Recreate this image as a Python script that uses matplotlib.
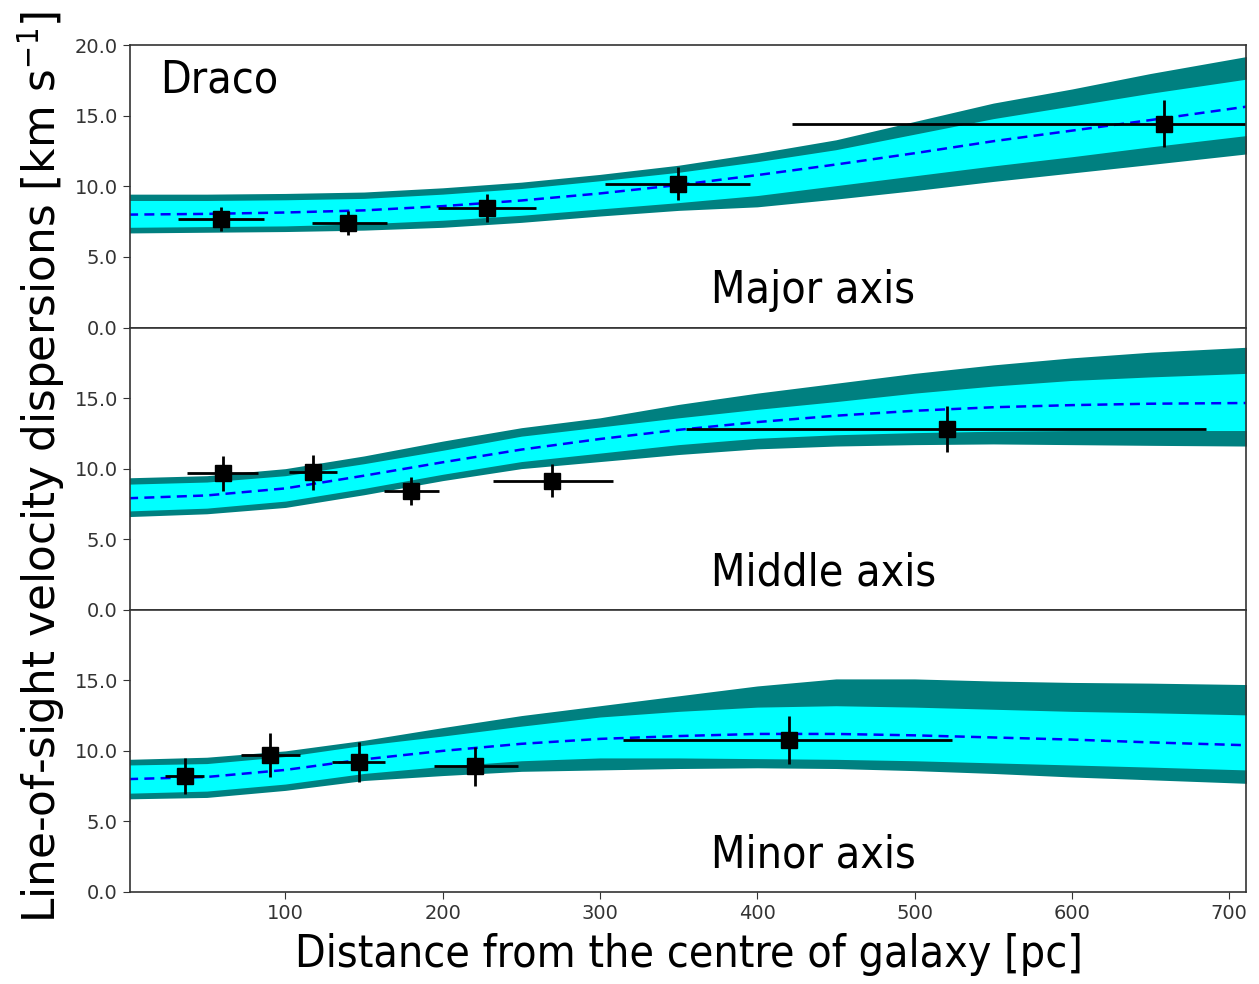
import numpy as np
import matplotlib
matplotlib.use('Agg')
import matplotlib.pyplot as plt

plt.rcParams['font.family'] = ['DejaVu Sans']
plt.rcParams['font.stretch'] = 'condensed'

# --- observed dispersions (radius in pc, sigma in km/s) ---
# major axis
maj_r = [59.2, 140.0, 228.2, 349.4, 658.8]
maj_rlo = [31.5, 116.7, 196.8, 303.2, 422.3]
maj_rhi = [86.2, 164.4, 259.4, 395.6, 895.0]
maj_s = [7.66, 7.42, 8.46, 10.19, 14.45]
maj_e = [0.85, 0.83, 1.0, 1.18, 1.65]
# middle axis
mid_r = [60.1, 117.4, 179.9, 269.8, 520.9]
mid_rlo = [37.3, 102.1, 162.9, 231.7, 355.0]
mid_rhi = [82.8, 132.6, 197.5, 308.0, 685.6]
mid_s = [9.69, 9.74, 8.44, 9.15, 12.84]
mid_e = [1.24, 1.24, 1.0, 1.17, 1.63]
# minor axis
min_r = [36.2, 90.5, 146.6, 220.8, 420.4]
min_rlo = [23.5, 71.8, 129.4, 194.3, 314.9]
min_rhi = [48.5, 109.3, 163.4, 248.1, 524.0]
min_s = [8.23, 9.72, 9.18, 8.90, 10.78]
min_e = [1.26, 1.54, 1.42, 1.37, 1.71]

# --- model profiles: median, 68% and 95% ranges ---
model_r = [0, 50, 100, 150, 200, 250, 300, 350, 400, 450, 500, 550, 600, 650, 711]

maj_med = [8.0, 8.05, 8.15, 8.3, 8.6, 9.0, 9.5, 10.1, 10.8, 11.55, 12.35, 13.2, 13.95, 14.7, 15.65]
maj_1hi = [9.0, 9.0, 9.05, 9.15, 9.45, 9.85, 10.4, 11.0, 11.75, 12.6, 13.7, 14.8, 15.7, 16.6, 17.6]
maj_2hi = [9.45, 9.45, 9.5, 9.6, 9.9, 10.3, 10.85, 11.5, 12.35, 13.3, 14.6, 15.9, 16.9, 18.0, 19.2]
maj_1lo = [7.1, 7.15, 7.2, 7.35, 7.6, 7.95, 8.4, 8.85, 9.35, 10.05, 10.75, 11.45, 12.1, 12.8, 13.6]
maj_2lo = [6.7, 6.75, 6.8, 6.9, 7.1, 7.45, 7.9, 8.3, 8.55, 9.1, 9.7, 10.35, 10.95, 11.55, 12.3]

mid_med = [7.9, 8.1, 8.6, 9.5, 10.45, 11.35, 12.1, 12.75, 13.3, 13.75, 14.1, 14.35, 14.5, 14.6, 14.65]
mid_1hi = [8.9, 9.05, 9.5, 10.35, 11.3, 12.3, 12.95, 13.6, 14.2, 14.75, 15.35, 15.85, 16.25, 16.5, 16.75]
mid_2hi = [9.35, 9.5, 10.0, 10.9, 11.95, 12.9, 13.6, 14.55, 15.35, 16.05, 16.75, 17.35, 17.85, 18.25, 18.6]
mid_1lo = [7.0, 7.2, 7.7, 8.6, 9.6, 10.5, 11.1, 11.7, 12.15, 12.4, 12.55, 12.65, 12.7, 12.7, 12.7]
mid_2lo = [6.6, 6.8, 7.25, 8.15, 9.15, 10.0, 10.5, 11.0, 11.4, 11.6, 11.7, 11.75, 11.7, 11.65, 11.6]

min_med = [8.0, 8.15, 8.65, 9.4, 10.0, 10.5, 10.85, 11.05, 11.2, 11.2, 11.1, 10.95, 10.8, 10.6, 10.4]
min_1hi = [9.0, 9.1, 9.6, 10.4, 11.05, 11.75, 12.4, 12.8, 13.1, 13.2, 13.1, 12.95, 12.8, 12.7, 12.55]
min_2hi = [9.4, 9.55, 10.0, 10.75, 11.65, 12.5, 13.2, 13.9, 14.6, 15.1, 15.1, 14.95, 14.85, 14.8, 14.7]
min_1lo = [7.0, 7.15, 7.65, 8.4, 8.9, 9.3, 9.5, 9.5, 9.45, 9.4, 9.3, 9.15, 9.0, 8.85, 8.65]
min_2lo = [6.6, 6.7, 7.2, 7.9, 8.25, 8.55, 8.65, 8.75, 8.8, 8.75, 8.6, 8.4, 8.15, 7.95, 7.7]

panels = [
    ('Major axis', maj_r, maj_rlo, maj_rhi, maj_s, maj_e,
     maj_med, maj_1lo, maj_1hi, maj_2lo, maj_2hi),
    ('Middle axis', mid_r, mid_rlo, mid_rhi, mid_s, mid_e,
     mid_med, mid_1lo, mid_1hi, mid_2lo, mid_2hi),
    ('Minor axis', min_r, min_rlo, min_rhi, min_s, min_e,
     min_med, min_1lo, min_1hi, min_2lo, min_2hi),
]

fig, axes = plt.subplots(3, 1, sharex=True, figsize=(12.59, 9.84), dpi=100)
fig.subplots_adjust(left=0.103, right=0.990, top=0.954, bottom=0.0935, hspace=0)

for i, (ax, p) in enumerate(zip(axes, panels)):
    name, r, rlo, rhi, s, e, med, lo1, hi1, lo2, hi2 = p
    r = np.array(r)
    xerr = [r - np.array(rlo), np.array(rhi) - r]
    ax.fill_between(model_r, lo2, hi2, color='#008080', lw=0)
    ax.fill_between(model_r, lo1, hi1, color='cyan', lw=0)
    ax.plot(model_r, med, '--', color='blue', lw=1.8, dashes=(4, 2.5))
    ax.errorbar(r, s, xerr=xerr, yerr=e, fmt='s', color='black', ms=12,
                elinewidth=2, capsize=0)
    ax.text(0.521, 0.13, name, transform=ax.transAxes, fontsize=32,
            va='center', ha='left')
    ax.set_xlim(1, 711)
    ax.set_ylim(0, 20)
    if i == 0:
        ax.set_yticks([0, 5, 10, 15, 20])
    else:
        ax.set_yticks([0, 5, 10, 15])
    ax.set_yticklabels(['%.1f' % t for t in ax.get_yticks()])
    ax.tick_params(labelsize=14, labelcolor='#333333', color='#333333',
                   length=5)
    for sp in ax.spines.values():
        sp.set_color('#333333')
        sp.set_linewidth(1.2)
    if i < 2:
        ax.tick_params(axis='x', bottom=False)

axes[0].text(0.027, 0.876, 'Draco', transform=axes[0].transAxes, fontsize=32,
             va='center', ha='left')
axes[2].set_xticks([100, 200, 300, 400, 500, 600, 700])

for ax in axes:
    for lab in ax.get_xticklabels() + ax.get_yticklabels():
        lab.set_fontstretch('normal')

fig.text(0.547, 0.03, 'Distance from the centre of galaxy [pc]', fontsize=32,
         ha='center', va='center')
fig.text(0.032, 0.526, r'Line-of-sight velocity dispersions [km s$^{-1}$]',
         fontsize=31.5, fontstretch='normal', rotation=90,
         ha='center', va='center')

fig.savefig('out.png', dpi=100)
